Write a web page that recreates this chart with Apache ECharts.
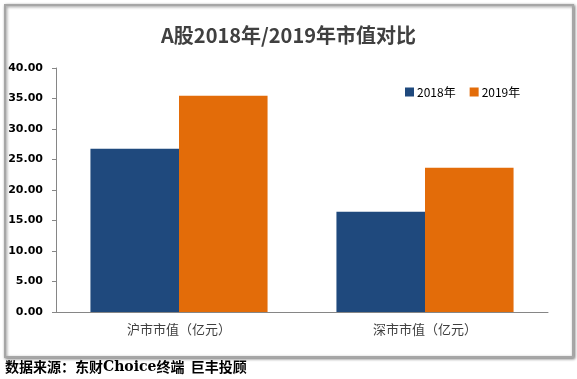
<!DOCTYPE html>
<html><head><meta charset="utf-8">
<script src="https://cdn.jsdelivr.net/npm/echarts@6/dist/echarts.min.js"></script>
<style>html,body{margin:0;padding:0;background:#fff}#c{width:577px;height:379px}</style>
</head><body><div id="c"></div>
<script>
const categories = ['沪市市值（亿元）', '深市市值（亿元）'];
const seriesNames = ['2018年', '2019年'];
const values2018 = [26.75, 16.45];
const values2019 = [35.45, 23.65];
const chartTitle = 'A股2018年/2019年市值对比';
const footnoteA = '数据来源：东财';
const footnoteB = 'Choice';
const footnoteC = '终端  巨丰投顾';

const chart = echarts.init(document.getElementById('c'), null, {renderer: 'canvas'});
chart.setOption({
  animation: false,
  backgroundColor: '#fff',
  graphic: [
    {type: 'rect', z: -10, shape: {x: 5, y: 5, width: 568, height: 352},
     style: {fill: '#fff', stroke: '#a6a6a6', lineWidth: 2, shadowBlur: 3, shadowColor: 'rgba(0,0,0,0.45)', shadowOffsetX: 1, shadowOffsetY: 1}},
    {type: 'text', left: 5, top: 360, style: {
      text: '{a|' + footnoteA + '}{b|' + footnoteB + '}{a|' + footnoteC + '}',
      rich: {
        a: {font: 'bold 14px "Noto Sans CJK SC"', fill: '#000'},
        b: {font: 'bold 14px "DejaVu Serif"', fill: '#000'}
      }}}
  ],
  title: {text: chartTitle, left: 'center', top: 20,
    textStyle: {fontSize: 20, fontWeight: 'bold', color: '#404040', fontFamily: '"Noto Sans CJK SC"'}},
  legend: {data: seriesNames, left: 400, top: 81, itemWidth: 9, itemHeight: 9, itemGap: 14, icon: 'rect',
    textStyle: {fontSize: 12, color: '#000', fontFamily: '"Noto Sans CJK SC"', padding: [0,0,0,-2]}},
  grid: {left: 56, right: 29, top: 68, bottom: 67, containLabel: false},
  xAxis: {type: 'category', data: categories,
    axisLine: {lineStyle: {color: '#868686'}}, axisTick: {show: false},
    axisLabel: {fontSize: 13, color: '#404040', margin: 11, fontFamily: '"Noto Sans CJK SC"'}},
  yAxis: {type: 'value', min: 0, max: 40, interval: 5,
    axisLine: {show: true, lineStyle: {color: '#868686'}},
    axisTick: {show: true, inside: false, length: 4, lineStyle: {color: '#868686'}},
    splitLine: {show: false},
    axisLabel: {formatter: v => v.toFixed(2), fontSize: 11, fontWeight: 'bold', color: '#000', margin: 13, fontFamily: '"DejaVu Sans", sans-serif'}},
  series: [
    {name: seriesNames[0], type: 'bar', data: values2018, barGap: '0%', barCategoryGap: '28%', itemStyle: {color: '#1F497D'}},
    {name: seriesNames[1], type: 'bar', data: values2019, barGap: '0%', barCategoryGap: '28%', itemStyle: {color: '#E36C09'}}
  ]
});
</script></body></html>
